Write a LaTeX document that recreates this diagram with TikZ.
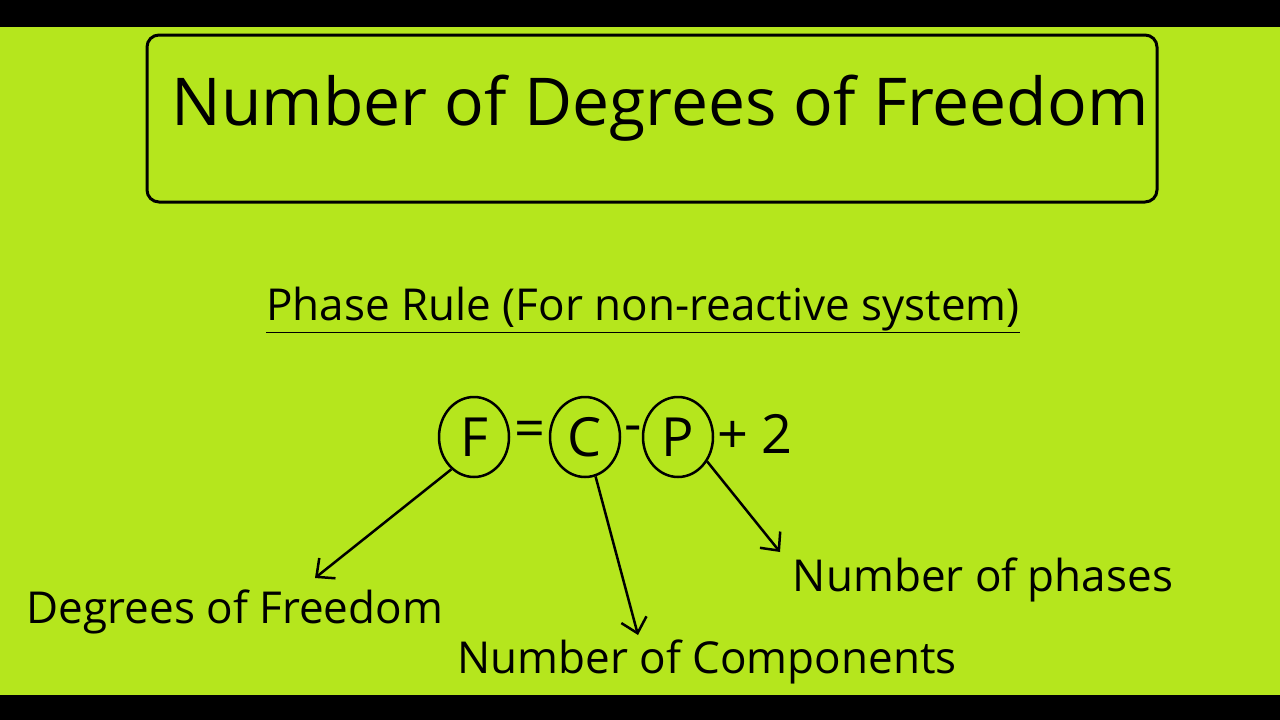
\documentclass[tikz,border=0pt]{standalone}
\usepackage{fontspec}
\setmainfont{Open Sans}
\usetikzlibrary{positioning,shapes.geometric,arrows.meta}
\definecolor{lime}{RGB}{181,230,29}
\begin{document}
\begin{tikzpicture}[x=1pt,y=-1pt,>={Straight Barb[length=14pt,width=26pt]},
  txt/.style={font=\fontsize{44}{50}\selectfont},
  eq/.style={font=\fontsize{54}{60}\selectfont},
  ring/.style={draw,ellipse,line width=2.5pt,minimum width=70pt,minimum height=80pt,inner sep=0pt,font=\fontsize{54}{60}\selectfont}]
  \useasboundingbox (0,0) rectangle (1280,720);
  \fill[black] (0,0) rectangle (1280,720);
  \fill[lime] (0,27) rectangle (1280,695);
  \draw[line width=3pt,rounded corners=12pt] (147,35) rectangle (1157,202);
  \node[font=\fontsize{66}{72}\selectfont] (title) at (660,108) {Number of Degrees of Freedom};
  \node[txt] (rule) at (643,310) {\underline{Phase Rule (For non-reactive system)}};
  % formula
  \node[ring] (F) at (474,437) {F};
  \node[eq] (eq1) at (530,434) {=};
  \node[ring] (C) at (585,437) {C};
  \node[eq] (minus) at (633,434) {-};
  \node[ring] (P) at (678,437) {P};
  \node[eq] (two) at (755,434) {+ 2};
  % labels
  \node[txt] (dof) at (235,612) {Degrees of Freedom};
  \node[txt] (comp) at (707,662) {Number of Components};
  \node[txt] (ph) at (983,580) {Number of phases};
  \coordinate (aF) at (315,578);
  \coordinate (aC) at (638,635);
  \coordinate (aP) at (780,552);
  \draw[->,line width=2.5pt] (F.235) -- (aF);
  \draw[->,line width=2.5pt] (C.285) -- (aC);
  \draw[->,line width=2.5pt] (P.320) -- (aP);
\end{tikzpicture}
\end{document}
